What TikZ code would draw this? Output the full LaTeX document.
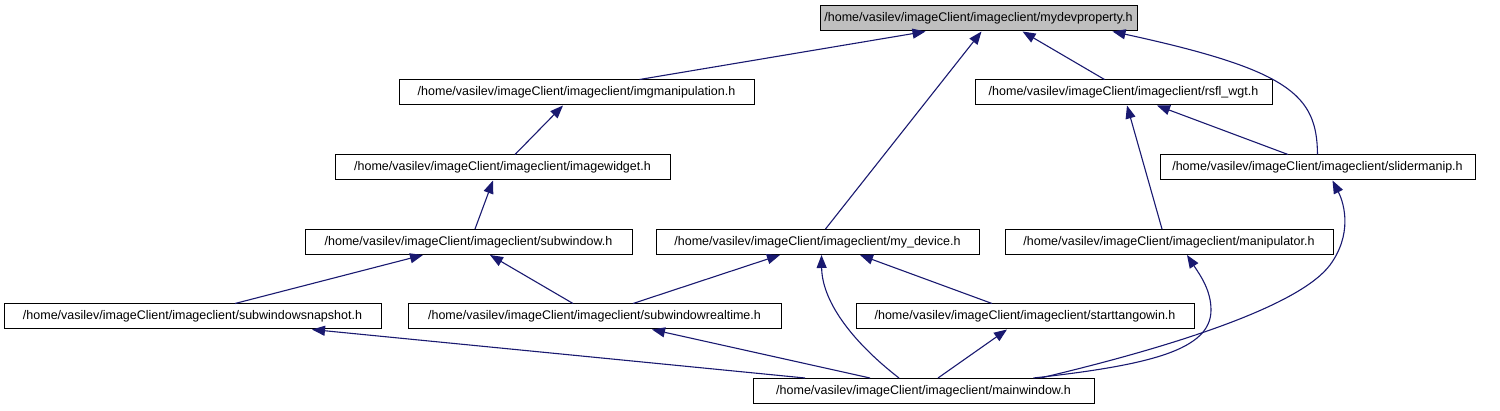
\documentclass[tikz,border=0pt]{standalone}
\usepackage{fontspec}
\setmainfont{Liberation Sans}
\usetikzlibrary{arrows.meta}
\definecolor{edgeblue}{HTML}{191970}
\definecolor{rootgray}{HTML}{BFBFBF}
\begin{document}
\begin{tikzpicture}[x=1pt,y=-1pt,
  filebox/.style={draw=black, line width=1pt, fill=white, minimum height=25pt,
    inner sep=0pt, font=\fontsize{12.5}{15}\selectfont, anchor=center},
  dep/.style={draw=edgeblue, line width=1.1pt, -{Triangle[length=13pt,width=10pt]}}]
\useasboundingbox (0,0) rectangle (1500,411);
\node[filebox, fill=rootgray, minimum width=317pt] (mydev) at (978.5,18.5) {/home/vasilev/imageClient/imageclient/mydevproperty.h};
\node[filebox, minimum width=355pt] (imgmanip) at (576.5,92.5) {/home/vasilev/imageClient/imageclient/imgmanipulation.h};
\node[filebox, minimum width=297pt] (rsfl) at (1123.5,92.5) {/home/vasilev/imageClient/imageclient/rsfl\_wgt.h};
\node[filebox, minimum width=335pt] (imagewidget) at (502.5,167.5) {/home/vasilev/imageClient/imageclient/imagewidget.h};
\node[filebox, minimum width=315pt] (slider) at (1317.5,167.5) {/home/vasilev/imageClient/imageclient/slidermanip.h};
\node[filebox, minimum width=327pt] (subwindow) at (468.5,242) {/home/vasilev/imageClient/imageclient/subwindow.h};
\node[filebox, minimum width=323pt] (mydevice) at (817.5,242) {/home/vasilev/imageClient/imageclient/my\_device.h};
\node[filebox, minimum width=328pt] (manip) at (1169,242) {/home/vasilev/imageClient/imageclient/manipulator.h};
\node[filebox, minimum width=377pt] (snapshot) at (192.5,316.5) {/home/vasilev/imageClient/imageclient/subwindowsnapshot.h};
\node[filebox, minimum width=373pt] (realtime) at (594.5,316.5) {/home/vasilev/imageClient/imageclient/subwindowrealtime.h};
\node[filebox, minimum width=338pt] (starttango) at (1025,316.5) {/home/vasilev/imageClient/imageclient/starttangowin.h};
\node[filebox, minimum width=341pt] (mainwindow) at (923.5,391) {/home/vasilev/imageClient/imageclient/mainwindow.h};

\draw[dep] ([xshift=63pt]imgmanip.north) -- ([xshift=-53pt]mydev.south);
\draw[dep] ([xshift=8pt]mydevice.north) -- ([xshift=3pt]mydev.south);
\draw[dep] ([xshift=-19pt]rsfl.north) -- ([xshift=44pt]mydev.south);
\draw[dep] (slider.north) .. controls (1317,95) and (1290,70) .. ([xshift=134pt]mydev.south);
\draw[dep] ([xshift=12.5pt]imagewidget.north) -- ([xshift=-13.5pt]imgmanip.south);
\draw[dep] ([xshift=-29.5pt]slider.north) -- ([xshift=33.5pt]rsfl.south);
\draw[dep] ([xshift=-7pt]manip.north) -- ([xshift=3.5pt]rsfl.south);
\draw[dep] ([xshift=6.5pt]subwindow.north) -- ([xshift=-9.5pt]imagewidget.south);
\draw[dep] ([xshift=42.5pt]snapshot.north) -- ([xshift=-45.5pt]subwindow.south);
\draw[dep] ([xshift=-21.5pt]realtime.north) -- ([xshift=21.5pt]subwindow.south);
\draw[dep] ([xshift=38.5pt]realtime.north) -- ([xshift=-37.5pt]mydevice.south);
\draw[dep] ([xshift=-24.5pt]mainwindow.north) .. controls (850,340) and (822,300) .. ([xshift=4pt]mydevice.south);
\draw[dep] ([xshift=-33pt]starttango.north) -- ([xshift=42.5pt]mydevice.south);
\draw[dep] ([xshift=-118.5pt]mainwindow.north) -- ([xshift=119.5pt]snapshot.south);
\draw[dep] ([xshift=-53.5pt]mainwindow.north) -- ([xshift=57.5pt]realtime.south);
\draw[dep] ([xshift=14.5pt]mainwindow.north) -- ([xshift=-18pt]starttango.south);
\draw[dep] ([xshift=110pt]mainwindow.north) .. controls (1150,365) and (1211,350) .. (1211,310) .. controls (1211,290) and (1200,275) .. ([xshift=18pt]manip.south);
\draw[dep] ([xshift=117pt]mainwindow.north) .. controls (1180,345) and (1300,305) .. (1330,265) .. controls (1352,235) and (1345,205) .. ([xshift=15pt]slider.south);
\end{tikzpicture}
\end{document}
